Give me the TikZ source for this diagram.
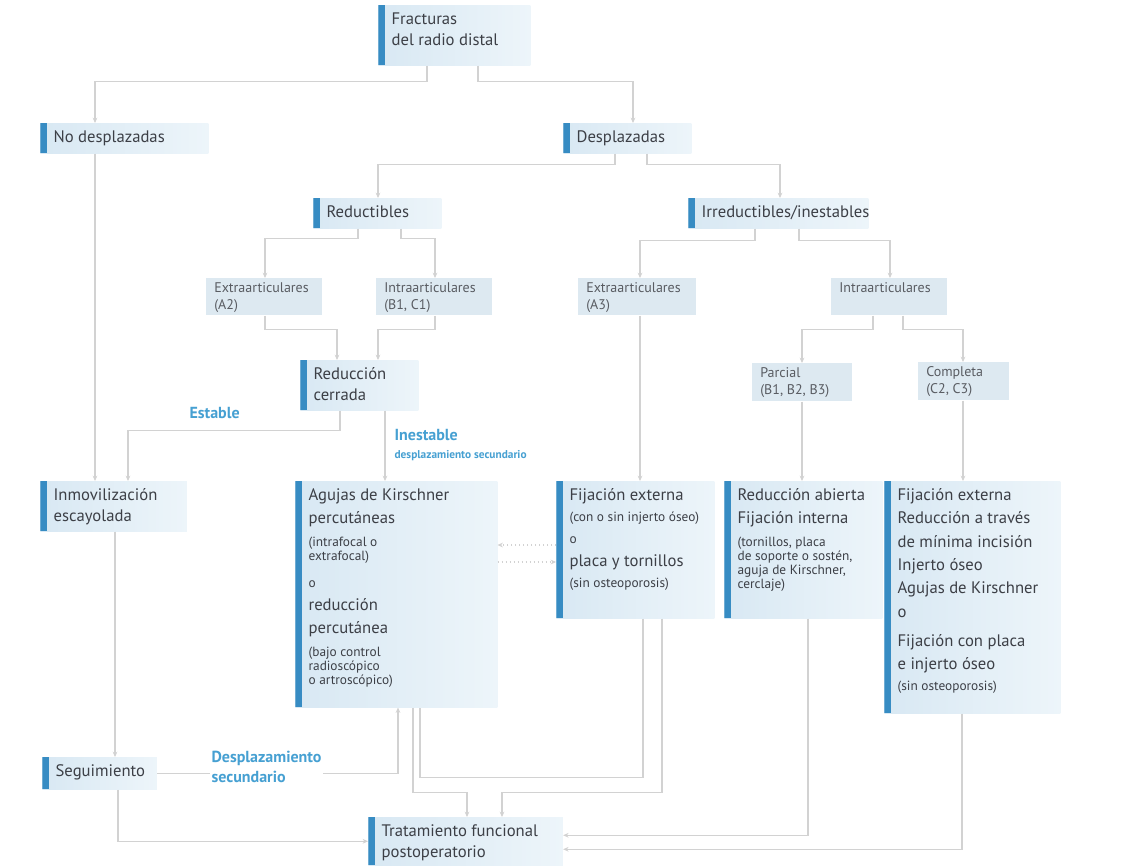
\documentclass[tikz,border=0pt]{standalone}
\usepackage{fontspec}
\setmainfont{PT Sans}
\definecolor{BarBlue}{HTML}{378CC3}
\definecolor{BoxLeft}{HTML}{D8E8F3}
\definecolor{BoxRight}{HTML}{EDF5FA}
\definecolor{SmallBox}{HTML}{DDE9F1}
\definecolor{TextGray}{HTML}{3C3F46}
\definecolor{LabelBlue}{HTML}{46A0D2}
\definecolor{LineGray}{HTML}{D2D2D2}
\usetikzlibrary{arrows.meta,calc,positioning}
\newcommand{\txtgrande}{\fontsize{12.5}{17.5}\selectfont\lineskiplimit=-6pt}
\newcommand{\txtdos}{\fontsize{12.5}{15.5}\selectfont\lineskiplimit=-6pt}
\newcommand{\txtchico}{\fontsize{10}{10.5}\selectfont\lineskiplimit=-6pt}

\begin{document}
\begin{tikzpicture}
[x=0.75pt, y=-0.75pt,
   caja/.style={rectangle, anchor=north west, left color=BoxLeft, right color=BoxRight,
   text=TextGray, align=flush left, inner xsep=10pt, inner ysep=3.5pt, text height=11pt,
   font=\txtgrande, path picture={\fill[BarBlue] (path picture bounding box.north west)
   rectangle ([xshift=5.25pt]path picture bounding box.south west);}},
   cajita/.style={rectangle, anchor=north west, fill=SmallBox, text=TextGray!85,
   align=flush left, inner xsep=6pt, inner ysep=3pt, text height=8pt,
   font=\fontsize{10.5}{12.5}\selectfont},
   etiq/.style={text=LabelBlue, align=left, inner sep=1pt,
   font=\bfseries\fontsize{12}{15}\selectfont},
   flecha/.style={draw=LineGray, line width=1pt, -{Stealth[length=4pt,width=3.5pt]}},
   linea/.style={draw=LineGray, line width=1pt},
   punteada/.style={draw=LineGray, line width=1pt, dotted, -{Stealth[length=4pt,width=3.5pt]}}]
\fill[white] (0,0) rectangle (1134,865);
\useasboundingbox (0,0) rectangle (1134,865);

\node[caja, text width=94pt, text depth=27pt] (frac) at (378,5) {\txtdos Fracturas\\del radio distal\par};
\node[caja, text width=106pt, text depth=4.5pt] (nodesp) at (40,123) {No desplazadas};
\node[caja, text width=76pt, text depth=4.5pt] (desp) at (563,123) {Desplazadas};
\node[caja, text width=76pt, text depth=4.5pt] (reduc) at (313,198) {Reductibles};
\node[caja, text width=115pt, text depth=4.5pt] (irred) at (688,198) {Irreductibles/inestables};

\node[cajita, text width=75pt, text depth=13.75pt] (extA2) at (206,278) {Extraarticulares\\(A2)\par};
\node[cajita, text width=75pt, text depth=13.75pt] (intB1) at (376,278) {Intraarticulares\\(B1, C1)\par};
\node[cajita, text width=76pt, text depth=13.75pt] (extA3) at (578,278) {Extraarticulares\\(A3)\par};
\node[cajita, text width=75pt, text depth=13.75pt] (intra) at (831,278) {Intraarticulares};

\node[caja, text width=68.5pt, text depth=19.5pt] (redcerr) at (300,360) {\txtdos Reducción\\cerrada\par};
\node[cajita, text width=63pt, text depth=14.5pt] (parcial) at (752,363) {Parcial\\(B1, B2, B3)\par};
\node[cajita, text width=56pt, text depth=14.5pt] (complet) at (918,362) {Completa\\(C2, C3)\par};

\node[caja, text width=90pt, text depth=19.5pt] (inmov) at (40,481) {\txtdos Inmovilización\\escayolada\par};
\node[caja, text width=131.5pt, text depth=151.5pt] (agujas) at (295,481) {Agujas de Kirschner\\percutáneas\par
\vspace{6.5pt}\txtchico (intrafocal o\\extrafocal)\par
\vspace{9.5pt}o\par
\txtgrande reducción\\percutánea\par
\vspace{6.5pt}\txtchico (bajo control\\radioscópico\\o artroscópico)\par};
\node[caja, text width=98.5pt, text depth=84.75pt] (fijext) at (556,481) {Fijación externa\par
\vspace{5.25pt}\txtchico (con o sin injerto óseo)\par
\vspace{6pt}o\par
\txtgrande placa y tornillos\par
\vspace{5.25pt}\txtchico (sin osteoporosis)\par};
\node[caja, text width=98.5pt, text depth=84.75pt] (redab) at (724,481) {Reducción abierta\\Fijación interna\par
\vspace{6.5pt}\txtchico (tornillos, placa\\de soporte o sostén,\\aguja de Kirschner,\\cerclaje)\par};
\node[caja, text width=112pt, text depth=156pt] (fijcomp) at (884,481) {Fijación externa\\Reducción a través\\de mínima incisión\\Injerto óseo\\Agujas de Kirschner\\o\par
\vspace{4.25pt}Fijación con placa\\e injerto óseo\par
\vspace{5.25pt}\txtchico (sin osteoporosis)\par};

\node[caja, text width=66pt, text depth=6pt] (seguim) at (42,757) {Seguimiento};
\node[caja, text width=126pt, text depth=18pt] (trat) at (368,817) {\txtdos Tratamiento funcional\\postoperatorio\par};

% etiquetas
\node[etiq, anchor=west] (estable) at (188,413) {Estable};
\node[etiq, anchor=north west] (inestable) at (393,428) {Inestable\\[-2pt]{\fontsize{8.5}{10}\selectfont desplazamiento secundario}};

% conectores
\draw[flecha] ($(frac.south west)+(49,0)$) -- ++(0,16) -| ($(nodesp.north west)+(55,0)$);
\draw[flecha] ($(frac.south west)+(100,0)$) -- ++(0,16) -| ($(desp.north west)+(70,0)$);
\draw[flecha] ($(desp.south west)+(52,0)$) -- ++(0,11) -| ($(reduc.north west)+(65,0)$);
\draw[flecha] ($(desp.south west)+(84,0)$) -- ++(0,11) -| ($(irred.north west)+(92,0)$);
\draw[flecha] ($(reduc.south west)+(45,0)$) -- ++(0,10) -| ($(extA2.north west)+(59,0)$);
\draw[flecha] ($(reduc.south west)+(88,0)$) -- ++(0,10) -| ($(intB1.north west)+(59,0)$);
\draw[flecha] ($(irred.south west)+(67,0)$) -- ++(0,12) -| ($(extA3.north west)+(62,0)$);
\draw[flecha] ($(irred.south west)+(111,0)$) -- ++(0,12) -| ($(intra.north west)+(59,0)$);
\draw[flecha] ($(extA2.south west)+(59,0)$) -- ++(0,14) -| ($(redcerr.north west)+(37,0)$);
\draw[flecha] ($(intB1.south west)+(59,0)$) -- ++(0,14) -| ($(redcerr.north west)+(78,0)$);
\draw[flecha] ($(intra.south west)+(42,0)$) -- ++(0,14) -| ($(parcial.north west)+(50,0)$);
\draw[flecha] ($(intra.south west)+(72,0)$) -- ++(0,14) -| ($(complet.north west)+(45,0)$);
\draw[flecha] ($(extA3.south west)+(62,0)$) -- ($(fijext.north west)+(84,0)$);
\draw[flecha] ($(parcial.south west)+(50,0)$) -- ($(redab.north west)+(78,0)$);
\draw[flecha] ($(complet.south west)+(45,0)$) -- ($(fijcomp.north west)+(79,0)$);
\draw[flecha] ($(nodesp.south west)+(55,0)$) -- ($(inmov.north west)+(55,0)$);
\draw[flecha] ($(redcerr.south west)+(40,0)$) -- ++(0,20) -| ($(inmov.north west)+(88,0)$);
\draw[flecha] ($(redcerr.south west)+(85,0)$) -- ($(agujas.north west)+(90,0)$);
\draw[flecha] ($(inmov.south west)+(75,0)$) -- ($(seguim.north west)+(73,0)$);
\draw[flecha] ($(seguim.south west)+(76,0)$) |- (trat.west);
\draw[flecha] (seguim.east) -| ($(agujas.south west)+(103,0)$);
\draw[flecha] ($(agujas.south west)+(118,0)$) -- ++(0,85) -| ($(trat.north west)+(99,0)$);
\draw[flecha] ($(fijext.south west)+(106,0)$) -- ++(0,174) -| ($(trat.north west)+(134,0)$);
\draw[linea] ($(fijext.south west)+(87,0)$) -- ++(0,159) -| ($(agujas.south west)+(125,0)$);
\draw[flecha] ($(redab.south west)+(84,0)$) |- ($(trat.east)+(0,-6)$);
\draw[flecha] ($(fijcomp.south west)+(78,0)$) |- ($(trat.east)+(0,8)$);
\draw[punteada] ($(fijext.north west)+(0,64)$) -- ($(agujas.north east)+(0,64)$);
\draw[punteada] ($(agujas.north east)+(0,81)$) -- ($(fijext.north west)+(0,81)$);

\node[etiq, anchor=north west, fill=white] (despsec) at (210,750) {Desplazamiento\\secundario};
%%
\end{tikzpicture}
\end{document}
